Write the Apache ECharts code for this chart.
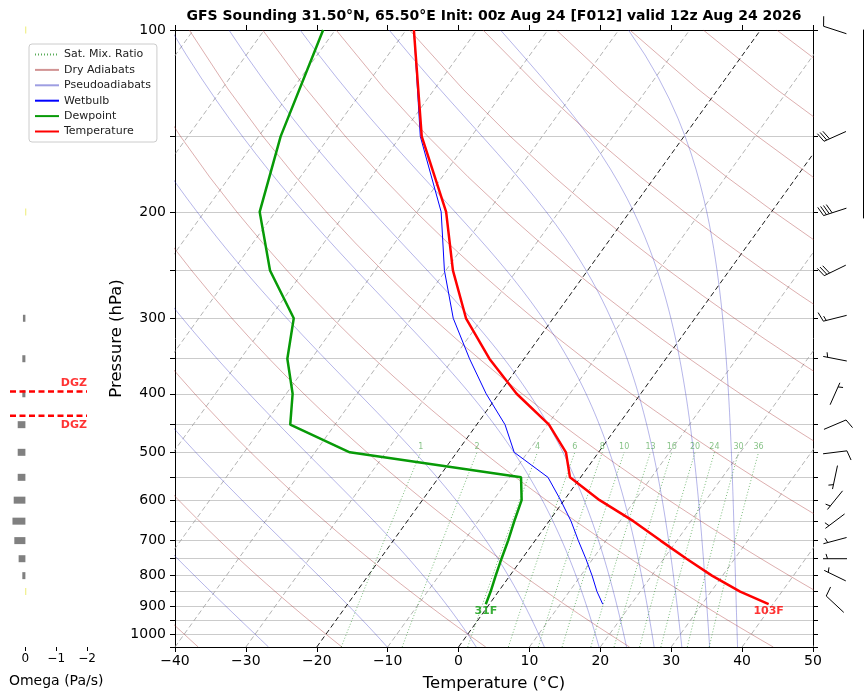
<!DOCTYPE html>
<html>
<head>
<meta charset="utf-8">
<script src="https://cdn.jsdelivr.net/npm/echarts@6/dist/echarts.min.js"></script>
<style>
html, body { margin: 0; padding: 0; background: #fff; }
#chart { width: 864px; height: 699px; }
</style>
</head>
<body>
<div id="chart"></div>
<script>
// sounding profile (hPa, degC)
const pressure = [892, 850, 800, 750, 700, 650, 600, 550, 500, 450, 400, 350, 300, 250, 200, 150, 100];
const temperature = [39.4, 34.1, 28.5, 23.2, 17.7, 11.9, 5.0, -1.5, -4.6, -9.8, -17.5, -24.9, -32.3, -39.0, -45.9, -57.0, -68.9];
const dewpoint = [-0.5, -1.1, -2.0, -2.9, -3.8, -4.9, -6.0, -8.4, -35.1, -46.3, -49.1, -53.4, -56.6, -64.8, -72.2, -76.9, -81.7];
const wetbulb = [16.0, 13.9, 11.6, 9.0, 6.1, 3.1, -0.5, -4.6, -11.9, -16.0, -21.8, -27.7, -34.1, -40.2, -46.6, -57.2, -68.9];

// wind barbs (direction from, knots)
const windPressure = [892, 800, 750, 700, 650, 600, 550, 500, 450, 400, 350, 300, 250, 200, 150, 100];
const windDirection = [313, 296, 270, 255, 233, 219, 192, 83, 67, 24, 281, 256, 244, 252, 246, 288];
const windSpeed = [10, 5, 5, 5, 5, 5, 5, 10, 10, 5, 5, 15, 30, 40, 30, 10];

// omega (Pa/s)
const omegaPressure = [850, 800, 750, 700, 650, 600, 550, 500, 450, 400, 350, 300, 250, 200, 150, 100];
const omegaValue = [-0.02, 0.1, 0.22, 0.36, 0.42, 0.38, 0.25, 0.25, 0.25, 0.1, 0.1, 0.08, 0, -0.02, 0, -0.02];

// background lines
const isotherms = [-100, -90, -80, -70, -60, -50, -40, -30, -20, -10, 0, 10, 20, 30, 40, 50];
const dryAdiabatStart = [-40, -20, 0, 20, 40, 60, 80, 100, 120, 140, 160, 180, 200, 220];
const moistAdiabatStart = [-30, -13, 0, 10, 18, 22, 26, 30, 34, 38];
const mixRatios = [1, 2, 4, 6, 8, 10, 13, 16, 20, 24, 30, 36];

// ticks
const pressureLabels = [100, 200, 300, 400, 500, 600, 700, 800, 900, 1000];
const pressureTicks = [100, 150, 200, 250, 300, 350, 400, 450, 500, 550, 600, 650, 700, 750, 800, 850, 900, 950, 1000, 1050];
const omegaTicks = [0, -1, -2];

const P_TOP = 100, P_BOT = 1050, SKEW = 61.3;
const Rd = 287.04, Cp = 1005.7, Lv = 2.501e6, EPS = 0.622;

function lp(p) { return Math.log10(p); }
function pt(t, p) { return [t + SKEW * Math.log10(P_BOT / p), lp(p)]; }
function minus(v) { return String(v).replace('-', '\u2212'); }
function satVap(tc) { return 6.112 * Math.exp(17.67 * tc / (tc + 243.5)); }

function moistRate(p, tk) {
    const es = satVap(tk - 273.15);
    const rs = EPS * es / (p - es);
    return (Rd * tk + Lv * rs) / (p * (Cp + Lv * Lv * rs * EPS / (Rd * tk * tk)));
}

function integrate(tk, p0, p1, h) {
    const out = [];
    let p = p0;
    while ((h < 0 && p >= p1) || (h > 0 && p <= p1)) {
        out.push([p, tk]);
        const k1 = moistRate(p, tk);
        const k2 = moistRate(p + h / 2, tk + h / 2 * k1);
        const k3 = moistRate(p + h / 2, tk + h / 2 * k2);
        const k4 = moistRate(p + h, tk + h * k3);
        tk += h / 6 * (k1 + 2 * k2 + 2 * k3 + k4);
        p += h;
    }
    return out;
}

function moistAdiabat(t0) {
    const up = integrate(t0 + 273.15, 1000, P_TOP, -10);
    const down = integrate(t0 + 273.15, 1000, P_BOT, 10).slice(1).reverse();
    return down.concat(up).map(d => pt(d[1] - 273.15, d[0]));
}

function dryAdiabat(t0) {
    const out = [];
    for (let p = P_BOT; p >= P_TOP; p -= 25) {
        out.push(pt((t0 + 273.15) * Math.pow(p / 1000, 0.2857) - 273.15, p));
    }
    return out;
}

function mixDewpoint(w, p) {
    const e = (w / 1000) * p / (EPS + w / 1000);
    const l = Math.log(e / 6.112);
    return 243.5 * l / (17.67 - l);
}

function mixLine(w) {
    const out = [];
    for (let p = P_BOT; p >= 500; p -= 25) out.push(pt(mixDewpoint(w, p), p));
    return out;
}

function crossing(target) {
    for (let i = 0; i < pressure.length - 1; i++) {
        const a = temperature[i] - target, b = temperature[i + 1] - target;
        if (a * b <= 0) {
            const f = a / (a - b);
            return Math.pow(10, lp(pressure[i]) + f * (lp(pressure[i + 1]) - lp(pressure[i])));
        }
    }
    return null;
}

function profile(vals) { return vals.map((t, i) => pt(t, pressure[i])); }

function line(name, data, color, width, type, z) {
    return {
        type: 'line', name: name, data: data, xAxisIndex: 0, yAxisIndex: 0,
        symbol: 'none', silent: true, animation: false, z: z || 1,
        itemStyle: { color: color },
        lineStyle: { color: color, width: width, type: type || 'solid' }
    };
}

const series = [];

isotherms.forEach(t => {
    const key = t === 0 || t === -20;
    series.push(line('iso', [pt(t, P_BOT), pt(t, P_TOP)], key ? '#000' : '#a0a0a0', key ? 0.9 : 0.8, [5, 3], key ? 2 : 1));
});
dryAdiabatStart.forEach(t => series.push(line('Dry Adiabats', dryAdiabat(t), 'rgba(165,42,42,0.5)', 0.75)));
moistAdiabatStart.forEach(t => series.push(line('Pseudoadiabats', moistAdiabat(t), 'rgba(40,40,190,0.45)', 0.75)));
mixRatios.forEach(w => series.push(line('Sat. Mix. Ratio', mixLine(w), 'rgba(0,128,0,0.65)', 0.8, [1, 2])));

series.push({
    type: 'scatter', name: 'mixlabels', xAxisIndex: 0, yAxisIndex: 0, symbolSize: 0, silent: true, animation: false,
    data: mixRatios.map(w => ({ name: String(w), value: pt(mixDewpoint(w, 500), 500) })),
    label: { show: true, formatter: '{b}', position: 'top', distance: 1, fontSize: 8, color: 'rgba(0,128,0,0.6)' }
});

series.push(line('Wetbulb', profile(wetbulb), '#0000ff', 1, 'solid', 5));
series.push(line('Dewpoint', profile(dewpoint), '#079a07', 2.5, 'solid', 6));
series.push(line('Temperature', profile(temperature), '#ff0000', 2.5, 'solid', 7));

function fahr(c) { return Math.round(c * 9 / 5 + 32) + 'F'; }
series.push({
    type: 'scatter', name: 'sfc', xAxisIndex: 0, yAxisIndex: 0, symbolSize: 0, silent: true, animation: false, z: 8,
    data: [
        { name: fahr(dewpoint[0]), value: pt(dewpoint[0], pressure[0]), label: { color: '#079a07' } },
        { name: fahr(temperature[0]), value: pt(temperature[0], pressure[0]), label: { color: '#ff0000' } }
    ],
    label: { show: true, formatter: '{b}', position: 'bottom', distance: 1, fontSize: 11, fontWeight: 'bold' }
});

// omega bars
series.push({
    type: 'custom', name: 'omega', xAxisIndex: 2, yAxisIndex: 2, silent: true, animation: false,
    data: omegaValue.map((v, i) => [v, lp(omegaPressure[i])]),
    renderItem: function (params, api) {
        const v = api.value(0);
        if (v === 0) return null;
        const a = api.coord([0, api.value(1)]);
        const b = api.coord([v, api.value(1)]);
        return {
            type: 'rect',
            shape: { x: Math.min(a[0], b[0]), y: a[1] - 3.5, width: Math.max(Math.abs(b[0] - a[0]), 0.8), height: 7 },
            style: { fill: v > 0 ? '#808080' : '#e8e850' }
        };
    }
});

// dendritic growth zone from the temperature profile
const dgzTop = crossing(-18), dgzBottom = crossing(-12);
[dgzTop, dgzBottom].forEach((p, i) => {
    series.push({
        type: 'line', name: 'dgz', xAxisIndex: 2, yAxisIndex: 2, symbol: 'none', silent: true, animation: false, z: 4,
        data: [[0.5, lp(p)], [-2, lp(p)]],
        lineStyle: { color: '#ff0000', width: 2.5, type: [6, 3.5] }
    });
    series.push({
        type: 'scatter', name: 'dgzlabel', xAxisIndex: 2, yAxisIndex: 2, symbolSize: 0, silent: true, animation: false, z: 4,
        data: [[-2, lp(p)]],
        label: {
            show: true, formatter: 'DGZ', position: [0, i === 0 ? -8 : 9], align: 'right', verticalAlign: 'middle',
            color: '#ff0000', fontSize: 11, fontWeight: 'bold'
        }
    });
});

// wind barbs
series.push({
    type: 'custom', name: 'barbs', xAxisIndex: 3, yAxisIndex: 3, silent: true, animation: false,
    data: windPressure.map((p, i) => [lp(p), windDirection[i], windSpeed[i]]),
    renderItem: function (params, api) {
        const c = api.coord([0.5, api.value(0)]);
        const ang = api.value(1) * Math.PI / 180;
        const L = 24, sp = 0.125 * L, H = 0.4 * L, W = 0.25 * L;
        const d = [Math.sin(ang), -Math.cos(ang)];
        const n = [-d[1], d[0]];
        const end = [c[0] + d[0] * L / 2, c[1] + d[1] * L / 2];
        const start = [c[0] - d[0] * L / 2, c[1] - d[1] * L / 2];
        const style = { stroke: '#000', lineWidth: 1 };
        const kids = [{ type: 'line', shape: { x1: start[0], y1: start[1], x2: end[0], y2: end[1] }, style: style }];
        let r = Math.round(api.value(2) / 5) * 5;
        const full = Math.floor(r / 10);
        const half = r % 10 >= 5;
        let s = 0;
        for (let k = 0; k < full; k++) {
            const q = [end[0] - d[0] * s, end[1] - d[1] * s];
            kids.push({ type: 'line', shape: { x1: q[0], y1: q[1], x2: q[0] + n[0] * H + d[0] * W / 2, y2: q[1] + n[1] * H + d[1] * W / 2 }, style: style });
            s += sp;
        }
        if (half) {
            if (s === 0) s = 1.5 * sp;
            const q = [end[0] - d[0] * s, end[1] - d[1] * s];
            kids.push({ type: 'line', shape: { x1: q[0], y1: q[1], x2: q[0] + n[0] * H / 2 + d[0] * W / 4, y2: q[1] + n[1] * H / 2 + d[1] * W / 4 }, style: style });
        }
        return { type: 'group', children: kids };
    }
});

const logRange = { type: 'value', min: lp(P_TOP), max: lp(P_BOT), inverse: true };
const black = { onZero: false, lineStyle: { color: '#000', width: 1 } };

const option = {
    animation: false,
    backgroundColor: '#fff',
    textStyle: { fontFamily: 'DejaVu Sans' },
    title: {
        text: 'GFS Sounding 31.50°N, 65.50°E Init: 00z Aug 24 [F012] valid 12z Aug 24 2026',
        left: 494, top: 9, textAlign: 'center', padding: 0,
        textStyle: { fontSize: 14, fontWeight: 'bold', color: '#000', fontFamily: 'DejaVu Sans' }
    },
    legend: {
        left: 29, top: 44, orient: 'vertical', selectedMode: false,
        data: ['Sat. Mix. Ratio', 'Dry Adiabats', 'Pseudoadiabats', 'Wetbulb', 'Dewpoint', 'Temperature'],
        itemWidth: 24, itemHeight: 12, itemGap: 4.4, padding: [5, 6, 5, 5],
        itemStyle: { opacity: 0 },
        backgroundColor: 'rgba(255,255,255,0.85)', borderColor: '#cccccc', borderWidth: 1, borderRadius: 3,
        textStyle: { fontSize: 11, color: '#222', fontFamily: 'DejaVu Sans' }
    },
    grid: [
        { left: 175, top: 30, width: 638, height: 617, outerBoundsMode: 'none' },
        { left: 10, top: 30, width: 92.4, height: 617, outerBoundsMode: 'none' },
        { left: 823, top: 30, width: 24, height: 617, outerBoundsMode: 'none' },
        { left: 863, top: 30, width: 10, height: 188, outerBoundsMode: 'none' }
    ],
    xAxis: [
        {
            gridIndex: 0, type: 'value', min: -40, max: 50, interval: 10, position: 'bottom',
            axisLine: black, axisTick: { length: 5, lineStyle: { color: '#000' } },
            axisLabel: { fontSize: 14, color: '#000', margin: 7, formatter: minus },
            splitLine: { show: false },
            name: 'Temperature (°C)', nameLocation: 'middle', nameGap: 28, nameMoveOverlap: false,
            nameTextStyle: { fontSize: 16.5, color: '#000' }
        },
        {
            gridIndex: 0, type: 'value', min: -40, max: 50, interval: 10, position: 'top',
            axisLine: black, axisTick: { length: 5, lineStyle: { color: '#000' } },
            axisLabel: { show: false }, splitLine: { show: false }
        },
        {
            gridIndex: 1, type: 'value', min: -2.5, max: 0.5, inverse: true,
            axisLine: { show: false, onZero: false },
            axisTick: { show: true, customValues: omegaTicks, length: 4, lineStyle: { color: '#000' } },
            axisLabel: { customValues: omegaTicks, fontSize: 12, color: '#000', margin: 6, formatter: minus },
            splitLine: { show: false },
            name: 'Omega (Pa/s)', nameLocation: 'middle', nameGap: 27, nameMoveOverlap: false,
            nameTextStyle: { fontSize: 14, color: '#000' }
        },
        { gridIndex: 2, type: 'value', min: 0, max: 1, show: false },
        { gridIndex: 3, type: 'value', min: 0, max: 1, show: false }
    ],
    yAxis: [
        Object.assign({}, logRange, {
            gridIndex: 0, position: 'left',
            axisLine: black,
            axisTick: { customValues: pressureTicks.map(lp), length: 5, lineStyle: { color: '#000' } },
            axisLabel: {
                customValues: pressureLabels.map(lp), fontSize: 14, color: '#000', margin: 9,
                formatter: v => String(Math.round(Math.pow(10, v)))
            },
            splitLine: { show: true, lineStyle: { color: '#cbcbcb', width: 1 } },
            name: 'Pressure (hPa)', nameLocation: 'middle', nameGap: 50, nameMoveOverlap: false,
            nameTextStyle: { fontSize: 16.5, color: '#000' }
        }),
        Object.assign({}, logRange, {
            gridIndex: 0, position: 'right',
            axisLine: black,
            axisTick: { customValues: pressureTicks.map(lp), length: 5, lineStyle: { color: '#000' } },
            axisLabel: { show: false }, splitLine: { show: false }
        }),
        Object.assign({}, logRange, { gridIndex: 1, show: false }),
        Object.assign({}, logRange, { gridIndex: 2, show: false }),
        {
            gridIndex: 3, type: 'value', min: 0, max: 1,
            axisLine: black, axisTick: { show: false }, axisLabel: { show: false }, splitLine: { show: false }
        }
    ],
    series: series
};

const chart = echarts.init(document.getElementById('chart'));
chart.setOption(option);
</script>
</body>
</html>
